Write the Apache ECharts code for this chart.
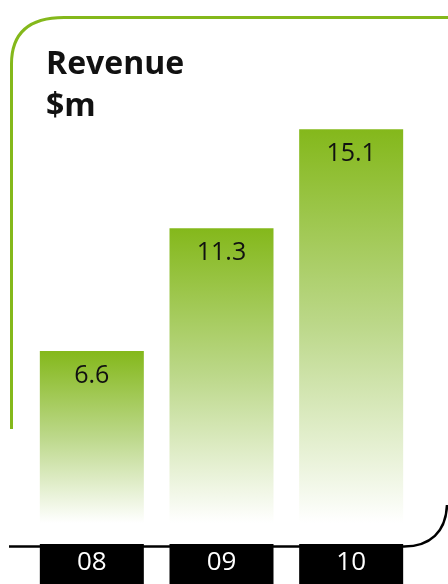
<!DOCTYPE html>
<html>
<head>
<meta charset="utf-8">
<style>html,body{margin:0;padding:0;background:#fff;}#chart{width:448px;height:584px;}</style>
<script src="https://cdn.jsdelivr.net/npm/echarts@6/dist/echarts.min.js"></script>
</head>
<body>
<div id="chart"></div>
<script>
var categories = ['08', '09', '10'];
var revenue = [6.6, 11.3, 15.1];
var titleText = 'Revenue\n$m';

var green = '#84b81b';
var chart = echarts.init(document.getElementById('chart'), null, {renderer: 'canvas'});
var option = {
  animation: false,
  backgroundColor: '#ffffff',
  title: {
    text: titleText,
    left: 46, top: 44, padding: 0,
    textStyle: {fontFamily: 'Open Sans', fontWeight: 'bold', fontSize: 32, lineHeight: 42, color: '#111'}
  },
  grid: {left: 27, right: 32, top: 64, bottom: 56},
  xAxis: {
    type: 'category',
    data: categories,
    axisLine: {show: false},
    axisTick: {show: false},
    axisLabel: {
      margin: 21,
      color: '#fff',
      fontFamily: 'Open Sans',
      fontSize: 26,
      backgroundColor: '#000',
      width: 104, height: 40, lineHeight: 38,
      align: 'center', verticalAlign: 'top',
      padding: 0
    }
  },
  yAxis: {type: 'value', min: 0, max: 17.6, show: false, splitLine: {show: false}},
  series: [{
    type: 'bar',
    data: revenue,
    barWidth: 104,
    itemStyle: {
      color: {
        type: 'linear', x: 0, y: 0, x2: 0, y2: 1,
        colorStops: [
          {offset: 0, color: '#84b81b'},
          {offset: 0.5, color: '#bcd88a'},
          {offset: 1, color: '#ffffff'}
        ]
      }
    },
    label: {
      show: true, position: 'insideTop', distance: 12,
      fontFamily: 'Open Sans', fontSize: 25, color: '#111'
    }
  }],
  graphic: [
    {type: 'line', silent: true, shape: {x1: 11.5, y1: 429, x2: 11.5, y2: 64}, style: {stroke: green, lineWidth: 3}},
    {type: 'bezierCurve', silent: true,
      shape: {x1: 11.5, y1: 64, cpx1: 11.5, cpy1: 32, cpx2: 30, cpy2: 17.5, x2: 64, y2: 17.5},
      style: {fill: null, stroke: green, lineWidth: 3}},
    {type: 'line', silent: true, shape: {x1: 64, y1: 17.5, x2: 450, y2: 17.5}, style: {stroke: green, lineWidth: 3}},
    {type: 'line', silent: true, shape: {x1: 9, y1: 546.5, x2: 404, y2: 546.5}, style: {stroke: '#000', lineWidth: 2.5}},
    {type: 'bezierCurve', silent: true,
      shape: {x1: 404, y1: 546.5, cpx1: 430, cpy1: 546.5, cpx2: 446, cpy2: 532, x2: 447, y2: 505},
      style: {fill: null, stroke: '#000', lineWidth: 2.5}}
  ]
};
chart.setOption(option);
</script>
</body>
</html>
